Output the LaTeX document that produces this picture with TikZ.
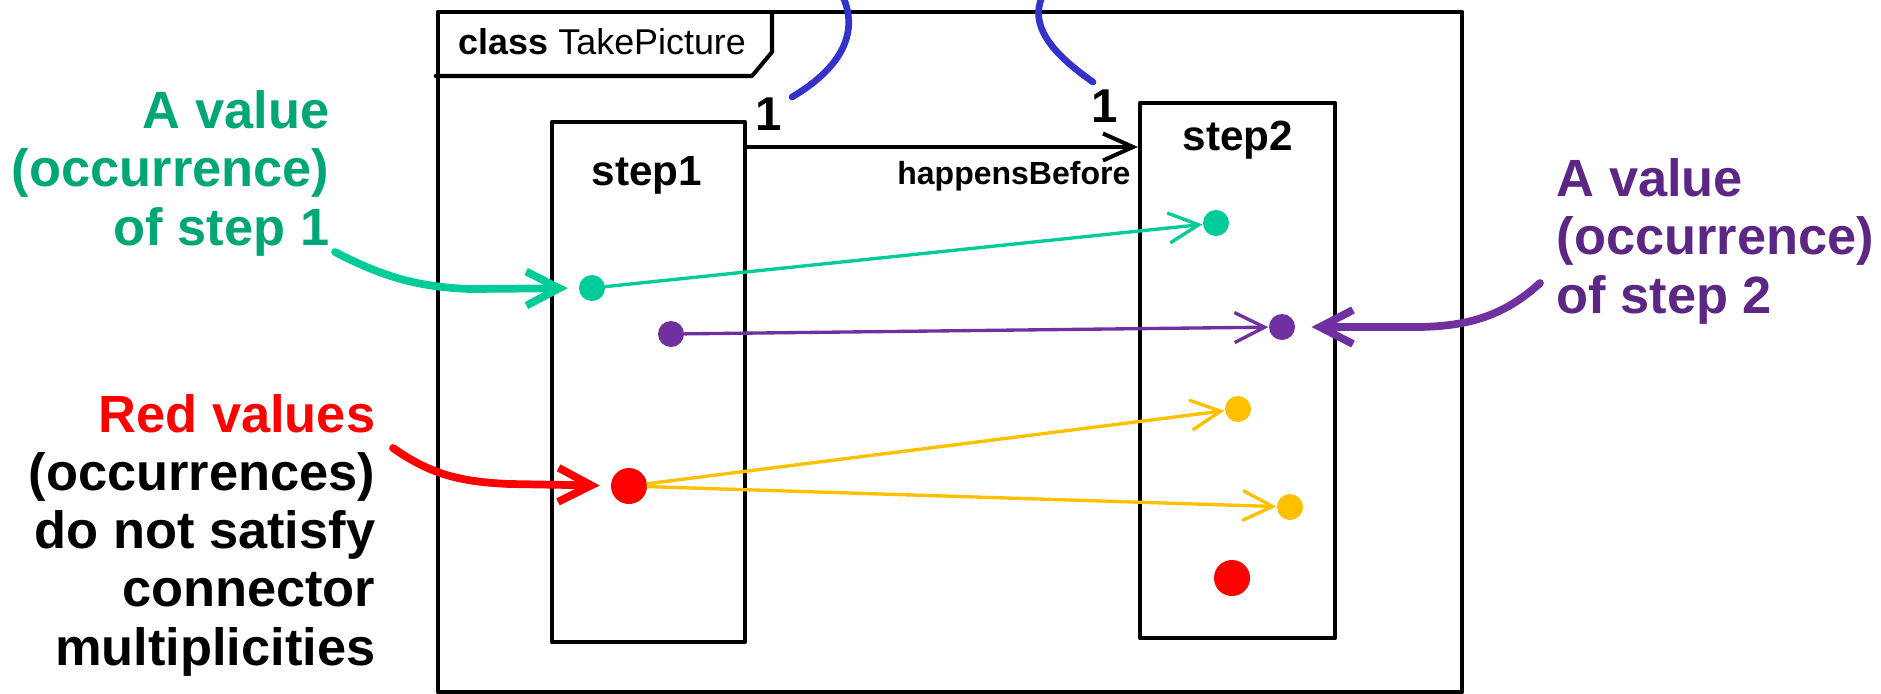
\documentclass[tikz,border=0pt]{standalone}
\usepackage{fontspec}
\setmainfont{Liberation Sans}
\usetikzlibrary{arrows.meta}

\definecolor{wireblue}{RGB}{51,51,204}
\definecolor{occgreen}{RGB}{0,204,153}
\definecolor{occgreentext}{RGB}{0,166,118}
\definecolor{occpurple}{RGB}{112,48,160}
\definecolor{occpurpletext}{RGB}{92,38,132}
\definecolor{occyellow}{RGB}{255,192,0}
\definecolor{occred}{RGB}{255,0,0}

\tikzset{
  umlline/.style={draw=black, line width=1.15pt},
  partbox/.style={umlline, rectangle, inner sep=0pt, fill=white},
  occdot/.style={circle, inner sep=0pt, minimum size=0.26cm},
  baddot/.style={circle, inner sep=0pt, minimum size=0.36cm, fill=occred},
  thinarrow/.style={line width=0.95pt, -{Straight Barb[length=0.3cm,width=0.3cm]}},
  callout/.style={line width=2.2pt, -{Straight Barb[length=0.33cm,width=0.34cm]}},
  notetext/.style={font=\fontsize{14.9}{16.5}\selectfont\bfseries, inner sep=0pt},
  steptext/.style={font=\fontsize{12}{14}\selectfont\bfseries, inner sep=0pt},
  multtext/.style={font=\fontsize{13.5}{15}\selectfont\bfseries, inner sep=0pt},
  wire/.style={draw=wireblue, line width=1.9pt},
}

\begin{document}
\begin{tikzpicture}[x=0.01cm, y=-0.01cm, line cap=round, line join=round]
\useasboundingbox (0,0) rectangle (1881,693);

% class frame with its name tab
\node[umlline, rectangle, inner sep=0pt, minimum width=10.24cm, minimum height=6.8cm] (frame) at (950,352) {};
\draw[umlline] (frame.north west |- 0,76) -- (752,76) -- (772,52) -- (772,12);
\node[anchor=base west, inner sep=0pt, font=\fontsize{10.2}{12}\selectfont] (title) at (458,54) {\textbf{class} TakePicture};

% parts
\node[partbox, minimum width=1.93cm, minimum height=5.2cm] (step1) at (648.5,382) {};
\node[partbox, minimum width=1.95cm, minimum height=5.35cm] (step2) at (1237.5,370.5) {};
\node[steptext, anchor=base] (step1name) at (647,185) {step1};
\node[steptext, anchor=base] (step2name) at (1238,150) {step2};

% connector between the parts
\coordinate (hbrow) at (0,147);
\draw[umlline, -{Straight Barb[length=0.3cm,width=0.27cm]}] (step1.east |- hbrow) -- (step2.west |- hbrow);
\node[anchor=base east, inner sep=0pt, font=\fontsize{9.1}{11}\selectfont\bfseries] (hblabel) at (1131,184) {happensBefore};
\node[multtext, anchor=base] (mult1) at (769,130) {1};
\node[multtext, anchor=base] (mult2) at (1105,122) {1};

% wires leaving the top
\coordinate (w1a) at (792,97);
\coordinate (w1b) at (843,-3);
\coordinate (w2a) at (1093,82);
\coordinate (w2b) at (1042,-3);
\draw[wire] (w1a) .. controls (838,70) and (860,35) .. (w1b);
\draw[wire] (w2a) .. controls (1050,52) and (1030,25) .. (w2b);

% occurrences
\node[occdot, fill=occgreen] (g1) at (592,288) {};
\node[occdot, fill=occgreen] (g2) at (1216,223) {};
\node[occdot, fill=occpurple] (p1) at (671,334) {};
\node[occdot, fill=occpurple] (p2) at (1282,327) {};
\node[baddot] (r1) at (629,486) {};
\node[occdot, fill=occyellow] (y1) at (1238,409) {};
\node[occdot, fill=occyellow] (y2) at (1290,507) {};
\node[baddot] (r2) at (1232,578) {};

\draw[thinarrow, occgreen] (g1) -- (g2);
\draw[thinarrow, occpurple] (p1) -- (p2);
\draw[thinarrow, occyellow] (r1) -- (y1);
\draw[thinarrow, occyellow] (r1) -- (y2);

% notes (anchored at the baseline of their last line)
\node[notetext, text=occgreentext, align=right, anchor=base east] (gnote) at (330,245)
  {A value\\(occurrence)\\of step 1};
\node[notetext, text=occpurpletext, align=left, anchor=base west] (pnote) at (1556,313)
  {A value\\(occurrence)\\of step 2};
\node[notetext, align=right, anchor=base east] (rnote) at (376,665)
  {\textcolor{occred}{Red values}\\(occurrences)\\do not satisfy\\connector\\multiplicities};

\coordinate (gstart) at (335,252);
\coordinate (pstart) at (1540,283);
\coordinate (rstart) at (393,448);
\draw[callout, occgreen, shorten >=3pt] (gstart) .. controls (385,278) and (420,287) .. (470,289) -- (g1);
\draw[callout, occpurple, shorten >=4.5pt] (pstart) .. controls (1500,320) and (1460,326) .. (1420,327) -- (p2);
\draw[callout, occred, shorten >=3pt] (rstart) .. controls (430,474) and (460,482) .. (510,484) -- (r1);
\end{tikzpicture}
\end{document}
